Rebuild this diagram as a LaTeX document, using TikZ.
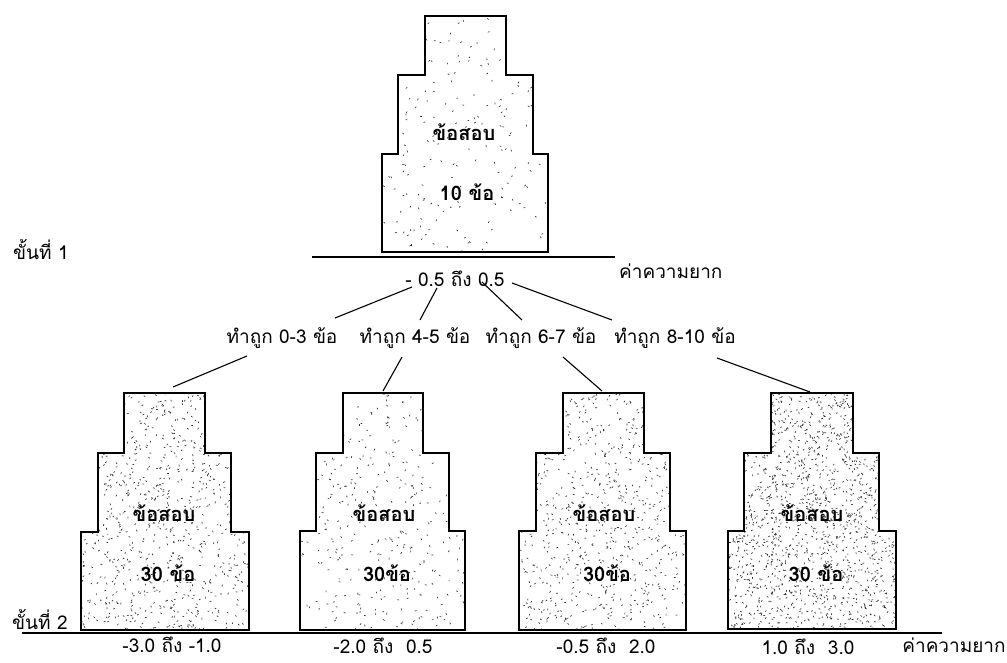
\documentclass[tikz,border=0pt]{standalone}
\usepackage{fontspec}
\newfontfamily\thai[Script=Thai]{Loma}
\newcommand\speckle[5]{%
  \foreach \k in {1,...,#5}{%
    \pgfmathsetmacro\sx{#1+rnd*#3}%
    \pgfmathsetmacro\sy{#2+rnd*#4}%
    \pgfmathsetmacro\sa{rnd*360}%
    \draw[speck] (\sx,\sy) -- ++(\sa:1.8);
  }}
\begin{document}
\begin{tikzpicture}[x=1pt,y=-1pt,
  txt/.style={font=\thai\fontsize{19}{22}\selectfont, inner sep=0pt},
  boxtxt/.style={font=\thai\bfseries\fontsize{20}{23}\selectfont, inner sep=0pt},
  tier/.style={draw=black, line width=1.4pt, line join=miter},
  axis/.style={draw=black, line width=2.2pt},
  conn/.style={draw=black, line width=1.1pt},
  speck/.style={line width=0.65pt, black!80}]
\useasboundingbox (0,0) rectangle (1007,663);
\pgfmathsetseed{7}

% ---------- top shape ----------
\begin{scope}
\clip (425,16) -- (506,16) -- (506,75) -- (533,75) -- (533,154) -- (548,154) -- (548,252) -- (382,252) -- (382,154) -- (398,154) -- (398,75) -- (425,75) -- cycle;
\speckle{382}{16}{166}{236}{220}
\end{scope}
\draw[tier] (425,16) -- (506,16) -- (506,75) -- (533,75) -- (533,154) -- (548,154) -- (548,252) -- (382,252) -- (382,154) -- (398,154) -- (398,75) -- (425,75) -- cycle;
\node[boxtxt] (t1) at (464,132) {ข้อสอบ};
\node[boxtxt] (t2) at (467,192) {10 ข้อ};

% ---------- row 2 shapes ----------
\begin{scope}
\clip (124,393) -- (205,393) -- (205,453) -- (231,453) -- (231,532) -- (249,532) -- (249,630) -- (81,630) -- (81,532) -- (98,532) -- (98,453) -- (124,453) -- cycle;
\speckle{81}{393}{168}{237}{900}
\end{scope}
\draw[tier] (124,393) -- (205,393) -- (205,453) -- (231,453) -- (231,532) -- (249,532) -- (249,630) -- (81,630) -- (81,532) -- (98,532) -- (98,453) -- (124,453) -- cycle;

\begin{scope}
\clip (343,393) -- (423,393) -- (423,453) -- (449,453) -- (449,531) -- (465,531) -- (465,630) -- (300,630) -- (300,531) -- (316,531) -- (316,453) -- (343,453) -- cycle;
\speckle{300}{393}{165}{237}{380}
\end{scope}
\draw[tier] (343,393) -- (423,393) -- (423,453) -- (449,453) -- (449,531) -- (465,531) -- (465,630) -- (300,630) -- (300,531) -- (316,531) -- (316,453) -- (343,453) -- cycle;

\begin{scope}
\clip (563,393) -- (644,393) -- (644,453) -- (670,453) -- (670,531) -- (686,531) -- (686,630) -- (519,630) -- (519,531) -- (536,531) -- (536,453) -- (563,453) -- cycle;
\speckle{519}{393}{167}{237}{800}
\end{scope}
\draw[tier] (563,393) -- (644,393) -- (644,453) -- (670,453) -- (670,531) -- (686,531) -- (686,630) -- (519,630) -- (519,531) -- (536,531) -- (536,453) -- (563,453) -- cycle;

\begin{scope}
\clip (771,393) -- (853,393) -- (853,453) -- (879,453) -- (879,531) -- (896,531) -- (896,629) -- (728,629) -- (728,531) -- (744,531) -- (744,453) -- (771,453) -- cycle;
\speckle{728}{393}{168}{236}{1700}
\end{scope}
\draw[tier] (771,393) -- (853,393) -- (853,453) -- (879,453) -- (879,531) -- (896,531) -- (896,629) -- (728,629) -- (728,531) -- (744,531) -- (744,453) -- (771,453) -- cycle;

\node[boxtxt] (b1a) at (164,513) {ข้อสอบ};
\node[boxtxt] (b1b) at (168,573) {30 ข้อ};
\node[boxtxt] (b2a) at (384,513) {ข้อสอบ};
\node[boxtxt] (b2b) at (387,573) {30ข้อ};
\node[boxtxt] (b3a) at (604,513) {ข้อสอบ};
\node[boxtxt] (b3b) at (607,573) {30ข้อ};
\node[boxtxt] (b4a) at (812,513) {ข้อสอบ};
\node[boxtxt] (b4b) at (816,573) {30 ข้อ};

% ---------- axes ----------
\coordinate (ax1s) at (312,257);
\coordinate (ax1e) at (615,257);
\draw[axis] (ax1s) -- (ax1e);
\coordinate (ax2s) at (22,633);
\coordinate (ax2e) at (942,633);
\draw[axis] (ax2s) -- (ax2e);

% ---------- text ----------
\node[txt, anchor=west] (st1) at (13,249) {ขั้นที่ 1};
\node[txt, anchor=west] (st2) at (12,619) {ขั้นที่ 2};
\node[txt, anchor=west] (k1) at (619,271) {ค่าความยาก};
\node[txt] (k2) at (954,645) {ค่าความยาก};
\node[txt] (r0) at (455,279) {- 0.5 ถึง 0.5};

\node[txt] (l1) at (282,338) {ทำถูก 0-3 ข้อ};
\node[txt] (l2) at (415,338) {ทำถูก 4-5 ข้อ};
\node[txt] (l3) at (541,338) {ทำถูก 6-7 ข้อ};
\node[txt] (l4) at (675,338) {ทำถูก 8-10 ข้อ};

\node[txt] (d1) at (172,645) {-3.0 ถึง -1.0};
\node[txt] (d2) at (383,646) {-2.0 ถึง\ \ 0.5};
\node[txt] (d3) at (606,646) {-0.5 ถึง\ \ 2.0};
\node[txt] (d4) at (808,647) {1.0 ถึง\ \ 3.0};

% ---------- connectors ----------
\coordinate (p1) at (412,287); \coordinate (q1) at (335,318);
\coordinate (p2) at (437,288); \coordinate (q2) at (420,320);
\coordinate (p3) at (482,282); \coordinate (q3) at (522,320);
\coordinate (p4) at (512,283); \coordinate (q4) at (612,320);
\draw[conn] (p1) -- (q1);
\draw[conn] (p2) -- (q2);
\draw[conn] (p3) -- (q3);
\draw[conn] (p4) -- (q4);

\coordinate (u1) at (247,356); \coordinate (v1) at (173,387);
\coordinate (u2) at (402,357); \coordinate (v2) at (383,391);
\coordinate (u3) at (563,357); \coordinate (v3) at (602,391);
\coordinate (u4) at (717,358); \coordinate (v4) at (810,392);
\draw[conn] (u1) -- (v1);
\draw[conn] (u2) -- (v2);
\draw[conn] (u3) -- (v3);
\draw[conn] (u4) -- (v4);
\end{tikzpicture}
\end{document}
